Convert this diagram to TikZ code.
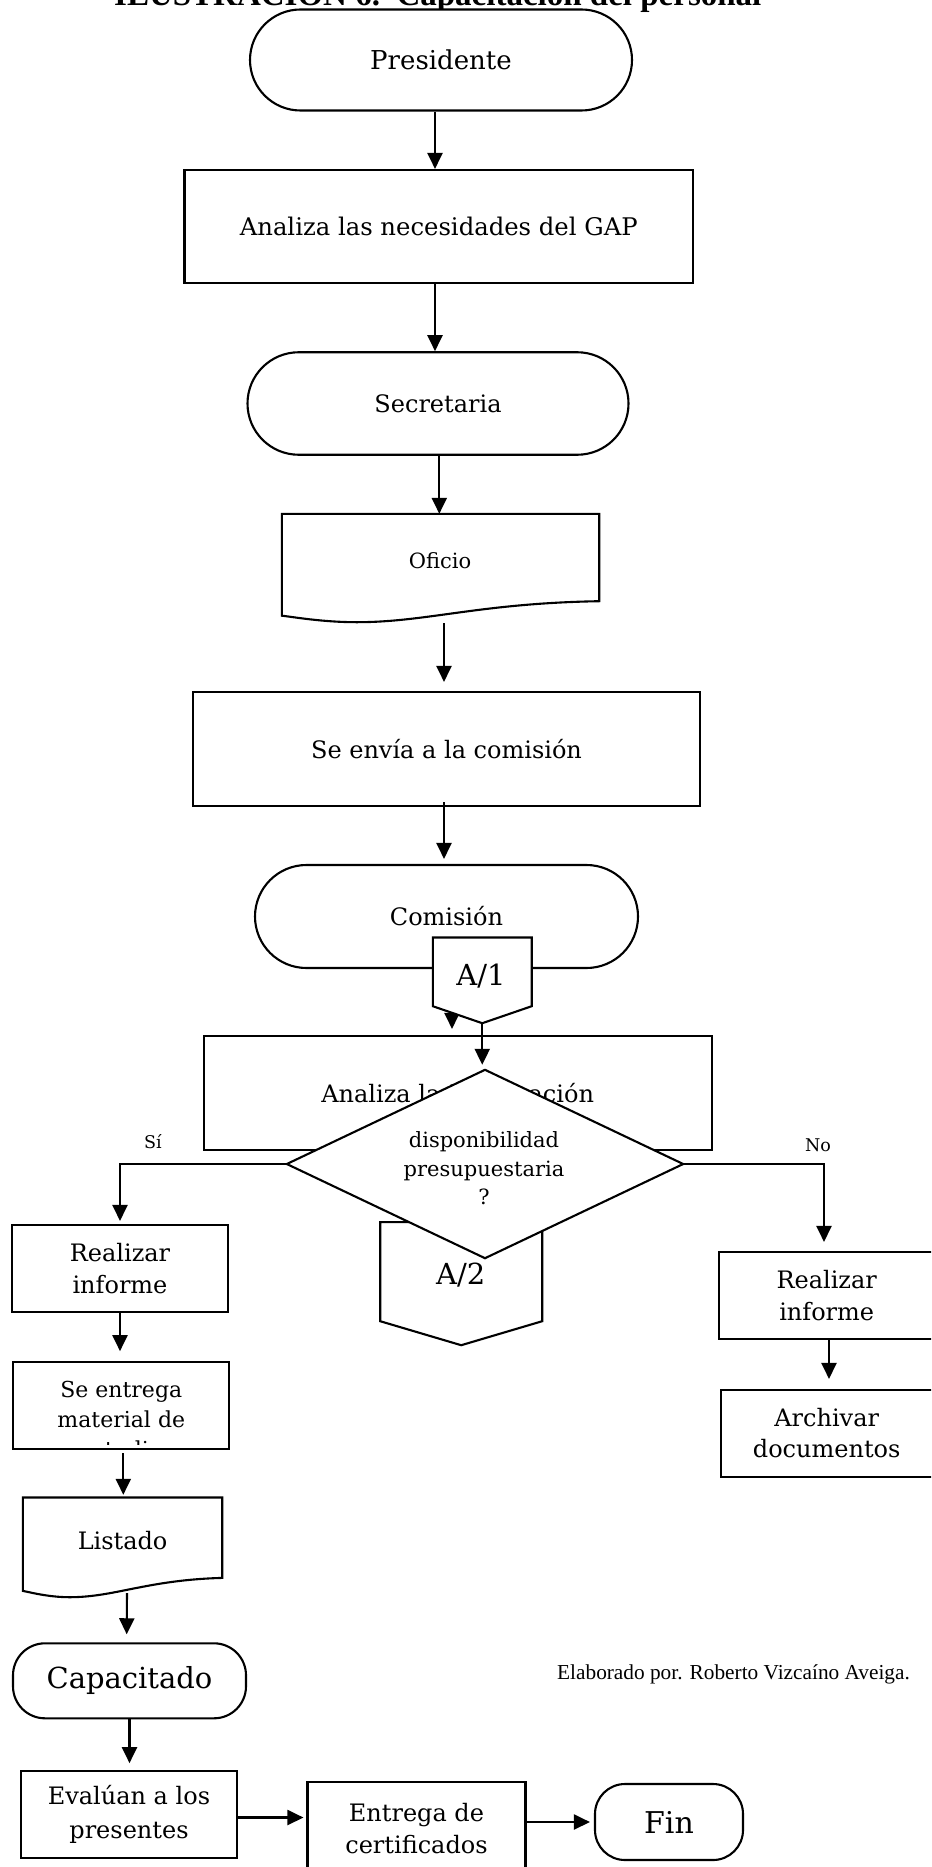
\documentclass[tikz,border=0pt]{standalone}
\usepackage{fontspec}
\setmainfont{DejaVu Serif}
\newfontfamily\timesf{Liberation Serif}
\usetikzlibrary{arrows.meta,shapes.misc,calc}
\newcommand{\myfs}[2]{\fontsize{#1}{#2}\selectfont}
\tikzset{
  lw/.style={line width=2.1pt},
  box/.style={draw, line width=2.1pt, rectangle, inner sep=0pt, align=center, fill=white},
  term/.style={draw, line width=2.1pt, rounded rectangle, inner sep=0pt, align=center, fill=white},
  rterm/.style={draw, line width=2.1pt, rectangle, rounded corners=#1, inner sep=0pt, align=center, fill=white},
  ghost/.style={inner sep=0pt, draw=none},
  arr/.style={line width=2.1pt, -{Triangle[length=16pt,width=15pt]}},
}
\begin{document}
\begin{tikzpicture}[x=1pt,y=-1pt]
\useasboundingbox (0,0) rectangle (931,1867);
\fill[white] (0,0) rectangle (931,1867);
\clip (0,0) rectangle (931,1867);

\node[anchor=base west, font=\timesf\bfseries\myfs{33}{33}, inner sep=0pt] (title) at (114,6) {ILUSTRACIÓN 6.\ \ Capacitación del personal};

\node[term, minimum width=382pt, minimum height=101pt, font=\myfs{26}{30}] (pres) at (441,60) {Presidente};
\node[box, minimum width=508.5pt, minimum height=113pt, font=\myfs{24.3}{30}] (nec) at (438.75,226.5) {Analiza las necesidades del GAP};
\draw[arr] ([xshift=-6pt]pres.south) -- ([xshift=-3.75pt]nec.north);

\node[term, minimum width=381pt, minimum height=102.5pt, font=\myfs{24}{30}] (sec) at (438,403.5) {Secretaria};
\draw[arr] ([xshift=-3.75pt]nec.south) -- ([xshift=-3pt]sec.north);

\node[ghost, minimum width=317pt, minimum height=108pt] (ofi) at (440.5,568) {};
\draw[lw] ($(ofi.south west)+(0,-6.5)$) -- (ofi.north west) -- (ofi.north east) -- ($(ofi.south east)+(0,-21)$) .. controls +(-120,2) and +(70,0) .. ($(ofi.south west)+(75,0)$) .. controls +(-35,0) and +(10,1) .. ($(ofi.south west)+(0,-6.5)$) -- cycle;
\node[font=\myfs{21}{25}] (ofit) at (440,561) {Oficio};
\draw[arr] ([xshift=1.3pt]sec.south) -- ([xshift=-1.2pt]ofi.north);

\node[box, minimum width=507pt, minimum height=114pt, font=\myfs{24}{30}] (sev) at (446.5,749) {Se envía a la comisión};
\draw[arr, shorten >=9pt] ([xshift=3.5pt, yshift=-1pt]ofi.south) -- ([xshift=-2.5pt]sev.north);

\node[term, minimum width=383pt, minimum height=103pt, font=\myfs{24}{30}] (com) at (446.5,916.5) {Comisión};
\draw[arr, shorten >=5pt] ([xshift=-2.5pt, yshift=5pt]sev.south) -- ([xshift=-2.5pt]com.north);

\node[box, minimum width=508pt, minimum height=114pt, font=\myfs{24}{30}] (ana) at (457.7,1093) {Analiza la información};
\draw[arr, shorten >=6pt] ([xshift=5.5pt]com.south) -- ([xshift=-5.7pt]ana.north);

\node[ghost, minimum width=98.5pt, minimum height=85.3pt] (a1) at (482.25,980.35) {};
\draw[lw, fill=white] (a1.north west) -- (a1.north east) -- ($(a1.south east)+(0,-17)$) -- (a1.south) -- ($(a1.south west)+(0,-17)$) -- cycle;
\node[font=\myfs{29}{34}] (a1t) at (481,976) {A/1};

\node[ghost, minimum width=161.6pt, minimum height=122.7pt] (a2) at (461.2,1283.65) {};
\draw[lw, fill=white] (a2.north west) -- (a2.north east) -- ($(a2.south east)+(0,-24)$) -- (a2.south) -- ($(a2.south west)+(0,-24)$) -- cycle;
\node[font=\myfs{29}{34}] (a2t) at (460.7,1275) {A/2};

\node[ghost, minimum width=396pt, minimum height=188pt] (dia) at (485,1164) {};
\draw[lw, fill=white] (dia.north) -- (dia.east) -- (dia.south) -- (dia.west) -- cycle;
\node[font=\myfs{21}{28.5}, align=center] (diat) at (484,1168.5) {disponibilidad\\presupuestaria\\?};
\draw[arr, shorten >=5pt] (a1.south) -- (a1.south |- dia.north);

\node[box, minimum width=216.6pt, minimum height=87.3pt, font=\myfs{24}{32}] (ril) at (120,1268.65) {Realizar\\informe};
\draw[arr, shorten >=3pt] (dia.west) -| (ril.north);
\node[font=\myfs{17.5}{20}] (si) at (153,1141.7) {Sí};

\node[box, minimum width=215.4pt, minimum height=87pt, font=\myfs{24}{32}] (rir) at (826.7,1295.5) {Realizar\\informe};
\draw[arr, shorten >=9pt] (dia.east) -| ([xshift=-2.7pt]rir.north);
\node[font=\myfs{17.5}{20}] (no) at (818,1145) {No};

\node[box, minimum width=212pt, minimum height=87pt, font=\myfs{24}{31}] (arc) at (826.7,1433.5) {Archivar\\documentos};
\draw[arr, shorten >=10pt] ([xshift=2.3pt]rir.south) -- ([xshift=2.3pt]arc.north);

\node[box, minimum width=216pt, minimum height=87.3pt] (seg) at (121.3,1405.35) {};
\begin{scope}
\clip ($(seg.north west)+(2,2)$) rectangle ($(seg.south east)+(-2,-6)$);
\node[font=\myfs{22}{30}, align=center] (segt) at (121.3,1419) {Se entrega\\material de\\estudio};
\end{scope}
\draw[arr, shorten >=9.5pt] (ril.south) -- (ril.south |- seg.north);

\node[ghost, minimum width=199pt, minimum height=99.3pt] (lis) at (122.5,1547.35) {};
\draw[lw] ($(lis.south west)+(0,-6.3)$) -- (lis.north west) -- (lis.north east) -- ($(lis.south east)+(0,-19.3)$) .. controls +(-75,2) and +(45,0) .. ($(lis.south west)+(47,0)$) .. controls +(-22,0) and +(6,1) .. ($(lis.south west)+(0,-6.3)$) -- cycle;
\node[font=\myfs{24}{30}] (list) at (122.6,1541) {Listado};
\draw[arr, shorten >=2.7pt] ([xshift=2pt, yshift=-3pt]seg.south) -- ([xshift=0.8pt]lis.north);

\node[rterm=32pt, minimum width=233pt, minimum height=75pt, font=\myfs{29}{34}] (cap) at (129.5,1680.8) {Capacitado};
\draw[arr, shorten >=8pt] ([xshift=4.5pt, yshift=4pt]lis.south) -- ([xshift=-2.9pt]cap.north);

\node[box, minimum width=216pt, minimum height=87.6pt, font=\myfs{24}{34}] (eva) at (129,1814.5) {Evalúan a los\\presentes};
\draw[arr, shorten >=6.5pt] (cap.south) -- (cap.south |- eva.north);

\node[box, minimum width=218pt, minimum height=94pt, font=\myfs{24}{32}] (ent) at (416.5,1829) {Entrega de\\certificados};
\coordinate (e1) at ([yshift=-3pt]eva.east);
\draw[arr, shorten >=3pt] (e1) -- (e1 -| ent.west);

\node[rterm=30pt, minimum width=148pt, minimum height=76pt, font=\myfs{30}{34}] (fin) at (669,1822) {Fin};
\draw[arr, shorten >=4pt] (ent.east |- fin.west) -- (fin.west);

\node[anchor=west, font=\timesf\myfs{21.3}{24}, inner sep=0pt] (elab) at (557,1674) {Elaborado por. Roberto Vizcaíno Aveiga.};
\end{tikzpicture}
\end{document}
